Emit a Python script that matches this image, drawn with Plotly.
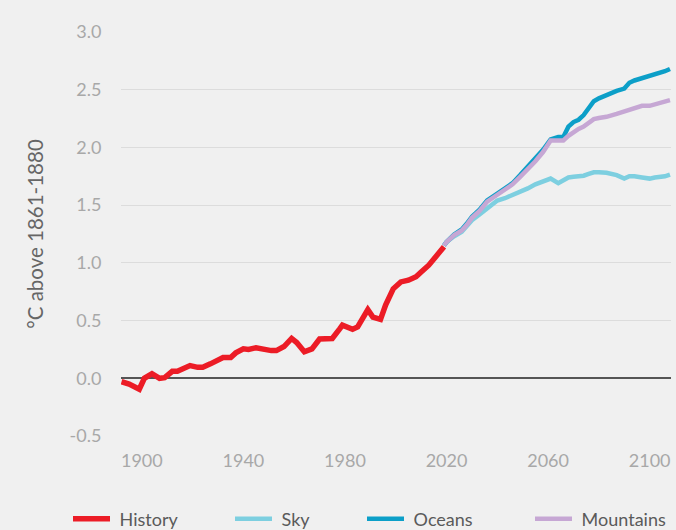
import plotly.graph_objects as go

# ---- data ----
hist_years = [1892, 1895, 1899, 1901, 1904, 1907, 1909, 1912, 1914, 1917, 1919, 1922,
              1924, 1927, 1930, 1932, 1935, 1937, 1940, 1942, 1945, 1947, 1951, 1953,
              1956, 1959, 1961, 1964, 1967, 1970, 1973, 1975, 1978, 1979, 1983, 1985,
              1989, 1991, 1994, 1996, 1999, 2002, 2005, 2008, 2010, 2013, 2016, 2019]
hist_vals = [-0.03, -0.05, -0.095, 0.0, 0.04, 0.0, 0.005, 0.06, 0.06, 0.085, 0.11, 0.095,
             0.095, 0.125, 0.16, 0.18, 0.18, 0.22, 0.255, 0.25, 0.265, 0.255, 0.24, 0.24,
             0.275, 0.345, 0.31, 0.23, 0.255, 0.34, 0.345, 0.345, 0.43, 0.46, 0.425, 0.445,
             0.595, 0.53, 0.51, 0.635, 0.775, 0.835, 0.85, 0.88, 0.92, 0.98, 1.06, 1.14]

proj_years = [2019, 2020, 2023, 2026, 2028, 2030, 2033, 2036, 2040, 2043, 2046, 2049,
              2052, 2055, 2058, 2061, 2064, 2066, 2068, 2070, 2072, 2074, 2076, 2078,
              2080, 2083, 2087, 2090, 2092, 2094, 2097, 2100, 2102, 2104, 2106, 2108]
sky_vals = [1.15, 1.18, 1.23, 1.27, 1.32, 1.37, 1.42, 1.47, 1.54, 1.56, 1.585, 1.61,
            1.645, 1.68, 1.705, 1.73, 1.69, 1.71, 1.74, 1.745, 1.75, 1.755, 1.77, 1.785,
            1.785, 1.78, 1.76, 1.73, 1.75, 1.75, 1.74, 1.73, 1.74, 1.745, 1.75, 1.765]
oceans_vals = [1.15, 1.18, 1.245, 1.29, 1.34, 1.40, 1.46, 1.54, 1.60, 1.645, 1.69, 1.76,
               1.83, 1.90, 1.98, 2.07, 2.09, 2.09, 2.18, 2.22, 2.24, 2.28, 2.34, 2.40,
               2.425, 2.455, 2.49, 2.51, 2.56, 2.58, 2.60, 2.615, 2.63, 2.645, 2.66, 2.68]
mountains_vals = [1.15, 1.18, 1.24, 1.28, 1.33, 1.39, 1.45, 1.53, 1.59, 1.63, 1.68, 1.745,
                  1.81, 1.88, 1.96, 2.06, 2.06, 2.06, 2.10, 2.135, 2.16, 2.18, 2.21, 2.245,
                  2.255, 2.265, 2.29, 2.31, 2.33, 2.345, 2.36, 2.36, 2.375, 2.39, 2.40, 2.41]

x_ticks = [1900, 1940, 1980, 2020, 2060, 2100]
y_ticks = [-0.5, 0.0, 0.5, 1.0, 1.5, 2.0, 2.5, 3.0]
y_tick_text = ["-0.5", "0.0", "0.5", "1.0", "1.5", "2.0", "2.5", "3.0"]

series_names = ["History", "Sky", "Oceans", "Mountains"]
series_colors = ["#ec1c26", "#7dcfe0", "#0c9fc8", "#c6a7d4"]

FONT = "Lato"
BG = "#f0f0f0"
W, H = 676, 530
ML, MR, MT, MB = 121, 5, 32, 94
PW = W - ML - MR
PH = H - MT - MB

fig = go.Figure()

# draw order: sky, oceans, mountains, history on top
order = [("Sky", proj_years, sky_vals, 4.5, "legend2"),
         ("Oceans", proj_years, oceans_vals, 4.5, "legend3"),
         ("Mountains", proj_years, mountains_vals, 4.5, "legend4"),
         ("History", hist_years, hist_vals, 5.5, "legend")]
for name, xs, ys, w, lg in order:
    c = series_colors[series_names.index(name)]
    fig.add_trace(go.Scatter(x=xs, y=ys, mode="lines", name="\u00a0" + name,
                             line=dict(color=c, width=w), legend=lg))

legend_px = [73, 235, 367, 535]
legend_keys = ["legend", "legend2", "legend3", "legend4"]
leg_y = (MT + PH - 519) / PH
for key, px in zip(legend_keys, legend_px):
    fig.update_layout(**{key: dict(
        x=(px - 5 - ML) / PW, y=leg_y, xanchor="left", yanchor="middle",
        orientation="h", bgcolor="rgba(0,0,0,0)", borderwidth=0,
        font=dict(family=FONT, size=18, color="#5a5a5a"),
        itemwidth=37)})

fig.update_layout(
    width=W, height=H,
    margin=dict(l=ML, r=MR, t=MT, b=MB, autoexpand=False),
    paper_bgcolor=BG, plot_bgcolor=BG,
    showlegend=True,
    font=dict(family=FONT, size=18, color="#a8a8a8"),
    xaxis=dict(range=[1891.8, 2108.4], tickvals=x_ticks, showgrid=False,
               zeroline=False, showline=False, ticks="outside", ticklen=8,
               tickcolor="rgba(0,0,0,0)",
               tickfont=dict(family=FONT, size=18, color="#a8a8a8")),
    yaxis=dict(range=[-0.5, 3.0], tickvals=y_ticks, ticktext=y_tick_text,
               showgrid=True, gridcolor="#dcdcdc", gridwidth=1,
               zeroline=True, zerolinecolor="#555555", zerolinewidth=1.5,
               showline=False, ticks="outside", ticklen=15,
               tickcolor="rgba(0,0,0,0)",
               tickfont=dict(family=FONT, size=18, color="#a8a8a8"),
               title=dict(text="°C above 1861-1880", standoff=20,
                          font=dict(family=FONT, size=20.5, color="#666666"))),
)

fig.write_html(
    "out.html",
    config={"displayModeBar": False},
    post_script="document.body.style.margin='0';document.body.style.background='%s';" % BG,
)
